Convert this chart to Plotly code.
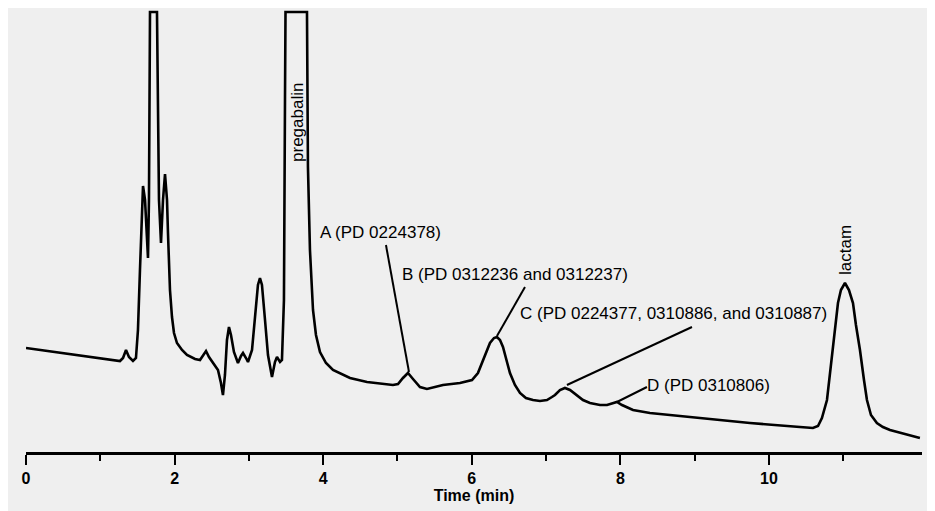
import plotly.graph_objects as go

# Chromatogram trace: time (min) and detector signal (arbitrary units)
time_min = [
    0.00, 0.66, 1.265, 1.306, 1.346, 1.386, 1.440, 1.480, 1.507, 1.534,
    1.561, 1.575, 1.602, 1.629, 1.642, 1.655, 1.662, 1.669, 1.763, 1.777,
    1.790, 1.817, 1.844, 1.871, 1.898, 1.911, 1.938, 1.965, 1.992, 2.032,
    2.100, 2.167, 2.275, 2.342, 2.382, 2.423, 2.463, 2.517, 2.584, 2.624,
    2.651, 2.678, 2.705, 2.732, 2.759, 2.799, 2.853, 2.894, 2.921, 2.961,
    2.988, 3.042, 3.082, 3.122, 3.149, 3.176, 3.217, 3.257, 3.311, 3.351,
    3.378, 3.419, 3.445, 3.472, 3.486, 3.493, 3.782, 3.795, 3.822, 3.863,
    3.903, 3.957, 4.038, 4.132, 4.361, 4.590, 4.939, 5.007, 5.074, 5.141,
    5.209, 5.303, 5.397, 5.505, 5.612, 5.841, 6.003, 6.083, 6.137, 6.191,
    6.245, 6.299, 6.339, 6.380, 6.420, 6.474, 6.514, 6.581, 6.649, 6.729,
    6.824, 6.918, 7.012, 7.079, 7.120, 7.187, 7.254, 7.322, 7.416, 7.497,
    7.591, 7.726, 7.820, 7.900, 7.954, 8.022, 8.170, 8.398, 9.071, 9.744,
    10.417, 10.592, 10.660, 10.713, 10.781, 10.821, 10.861, 10.902, 10.929, 10.969,
    11.023, 11.077, 11.131, 11.171, 11.225, 11.279, 11.319, 11.373, 11.453, 11.534,
    11.629, 11.830, 12.032,
]
signal = [
    104, 97, 91, 94, 102, 95, 91, 94, 122, 182,
    252, 266, 252, 212, 194, 252, 352, 440, 440, 352,
    252, 209, 252, 278, 252, 219, 162, 135, 119, 109,
    102, 97, 93, 92, 96, 101, 95, 89, 82, 69,
    57, 77, 112, 125, 117, 100, 89, 96, 99, 94,
    90, 102, 132, 167, 174, 167, 132, 97, 75, 90,
    95, 90, 92, 152, 352, 440, 440, 285, 202, 142,
    117, 100, 89, 82, 74, 70, 67, 68, 74, 79,
    73, 65, 63, 65, 67, 69, 72, 79, 89, 100,
    109, 114, 115, 112, 105, 90, 79, 67, 59, 54,
    52, 51, 52, 55, 57, 62, 64, 62, 57, 52,
    49, 47, 47, 49, 50, 47, 42, 39, 34, 29,
    25, 24, 26, 34, 52, 77, 102, 132, 149, 162,
    169, 162, 149, 127, 102, 72, 52, 37, 29, 25,
    22, 18, 14,
]

major_ticks = [0, 2, 4, 6, 8, 10]
minor_ticks = [1, 3, 5, 7, 9, 11]

# Peak labels
label_texts = [
    "A (PD 0224378)",
    "B (PD 0312236 and 0312237)",
    "C (PD 0224377, 0310886, and 0310887)",
    "D (PD 0310806)",
]
label_x = [3.93, 5.03, 6.62, 8.33]
label_y = [220, 178, 139, 67]
# leader lines: from (lead_x0, lead_y0) near label to peak (lead_x1, lead_y1)
lead_x0 = [4.845, 6.716, 8.964, 8.358]
lead_y0 = [207, 165, 125, 65]
lead_x1 = [5.155, 6.339, 7.281, 7.954]
lead_y1 = [80, 116, 67, 50]

rot_texts = ["pregabalin", "lactam"]
rot_x = [3.647, 11.023]
rot_y = [330, 202]

FONT = "Liberation Sans, Arial, sans-serif"

fig = go.Figure()
fig.add_trace(go.Scatter(
    x=time_min, y=signal, mode="lines",
    line=dict(color="black", width=2.6),
    showlegend=False, hoverinfo="skip",
))

for i in range(len(lead_x0)):
    fig.add_shape(type="line", xref="x", yref="y",
                  x0=lead_x0[i], y0=lead_y0[i], x1=lead_x1[i], y1=lead_y1[i],
                  line=dict(color="black", width=2))

for t, x, y in zip(label_texts, label_x, label_y):
    fig.add_annotation(x=x, y=y, xref="x", yref="y", text=t, showarrow=False,
                       xanchor="left", yanchor="middle",
                       font=dict(family=FONT, size=17, color="black"))

for t, x, y in zip(rot_texts, rot_x, rot_y):
    fig.add_annotation(x=x, y=y, xref="x", yref="y", text=t, showarrow=False,
                       textangle=-90, xanchor="center", yanchor="middle",
                       font=dict(family=FONT, size=17, color="black"))

# the page body has an 8px margin, so the figure is sized to fit the window
fig.update_layout(
    width=927, height=503,
    margin=dict(l=18, r=13, t=2, b=59, autoexpand=False),
    paper_bgcolor="#efefef", plot_bgcolor="#efefef",
    xaxis=dict(
        range=[0, 12.06], showgrid=False, zeroline=False, automargin=False,
        showline=True, linecolor="black", linewidth=2.5,
        ticks="outside", ticklen=10, tickwidth=2, tickcolor="black",
        tickmode="array", tickvals=major_ticks, ticktext=[str(v) for v in major_ticks],
        minor=dict(tickmode="array", tickvals=minor_ticks, ticks="outside",
                   ticklen=6, tickwidth=2, tickcolor="black", showgrid=False),
        tickfont=dict(family=FONT, size=16, color="black", weight="bold"),
        title=dict(text="Time (min)", standoff=4,
                   font=dict(family=FONT, size=16, color="black", weight="bold")),
    ),
    yaxis=dict(range=[0, 442], visible=False),
)

fig.write_html("out.html")
